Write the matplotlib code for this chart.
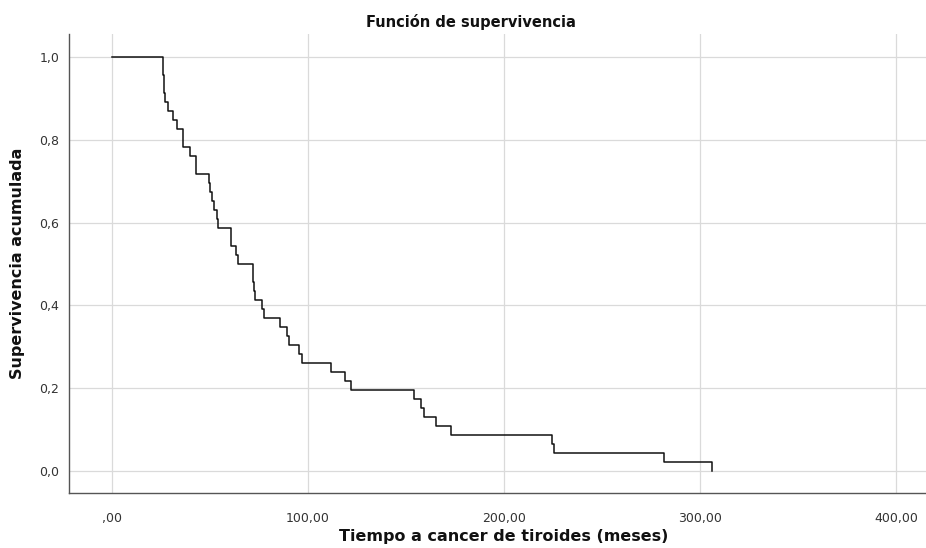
import matplotlib
matplotlib.use('Agg')
import matplotlib.pyplot as plt

plt.rcParams['font.family'] = 'DejaVu Sans'

# Kaplan-Meier steps (time in months, survival after the drop)
tiempos = [0, 26.2, 26.6, 27.2, 28.7, 31.0, 33.3, 36.4, 39.8, 42.7,
           49.6, 50.2, 50.9, 52.0, 53.4, 54.2, 60.7, 63.1, 64.1,
           72.1, 72.6, 73.0, 76.5, 77.8, 85.5, 89.4, 90.5, 95.6, 96.8,
           111.6, 118.9, 121.8, 154.1, 157.5, 159.2, 165.3, 173.0,
           224.3, 225.5, 281.6, 306.1]
supervivencia = [1.0, 0.957, 0.913, 0.891, 0.870, 0.848, 0.826, 0.783, 0.761, 0.717,
                 0.696, 0.674, 0.652, 0.630, 0.609, 0.587, 0.543, 0.522, 0.500,
                 0.457, 0.435, 0.413, 0.391, 0.370, 0.348, 0.326, 0.304, 0.283, 0.261,
                 0.239, 0.217, 0.196, 0.174, 0.152, 0.130, 0.109, 0.087,
                 0.065, 0.043, 0.022, 0.0]

xticks = [0, 100, 200, 300, 400]
xticklabels = [',00', '100,00', '200,00', '300,00', '400,00']
yticks = [0.0, 0.2, 0.4, 0.6, 0.8, 1.0]
yticklabels = ['0,0', '0,2', '0,4', '0,6', '0,8', '1,0']

fig = plt.figure(figsize=(9.26, 5.48), dpi=100)
ax = fig.add_axes([0.0745, 0.1004, 0.9255, 0.8376])

ax.step(tiempos, supervivencia, where='post', color='#111111', linewidth=1.1, zorder=3)

ax.set_xlim(-21.9, 415.3)
ax.set_ylim(-0.053, 1.0556)
ax.set_xticks(xticks)
ax.set_xticklabels(xticklabels)
ax.set_yticks(yticks)
ax.set_yticklabels(yticklabels)
ax.tick_params(length=0, labelsize=9, colors='#333333')
ax.tick_params(axis='x', pad=14)
ax.tick_params(axis='y', pad=7)
ax.grid(True, color='#dadada', linewidth=0.9)
ax.set_axisbelow(True)
for s in ['top', 'right']:
    ax.spines[s].set_visible(False)
for s in ['left', 'bottom']:
    ax.spines[s].set_color('#555555')
    ax.spines[s].set_linewidth(1.0)

fig.text(471 / 926, 1 - 22 / 548, 'Función de supervivencia', ha='center', va='center',
         fontsize=10.5, fontweight='bold', color='#111111')
fig.text(504 / 926, 1 - 537 / 548, 'Tiempo a cancer de tiroides (meses)', ha='center',
         va='center', fontsize=11.5, fontweight='bold', color='#111111')
fig.text(18 / 926, 1 - 263 / 548, 'Supervivencia acumulada', ha='center', va='center',
         rotation=90, fontsize=11.5, fontweight='bold', color='#111111')

fig.savefig('out.png', dpi=100)
